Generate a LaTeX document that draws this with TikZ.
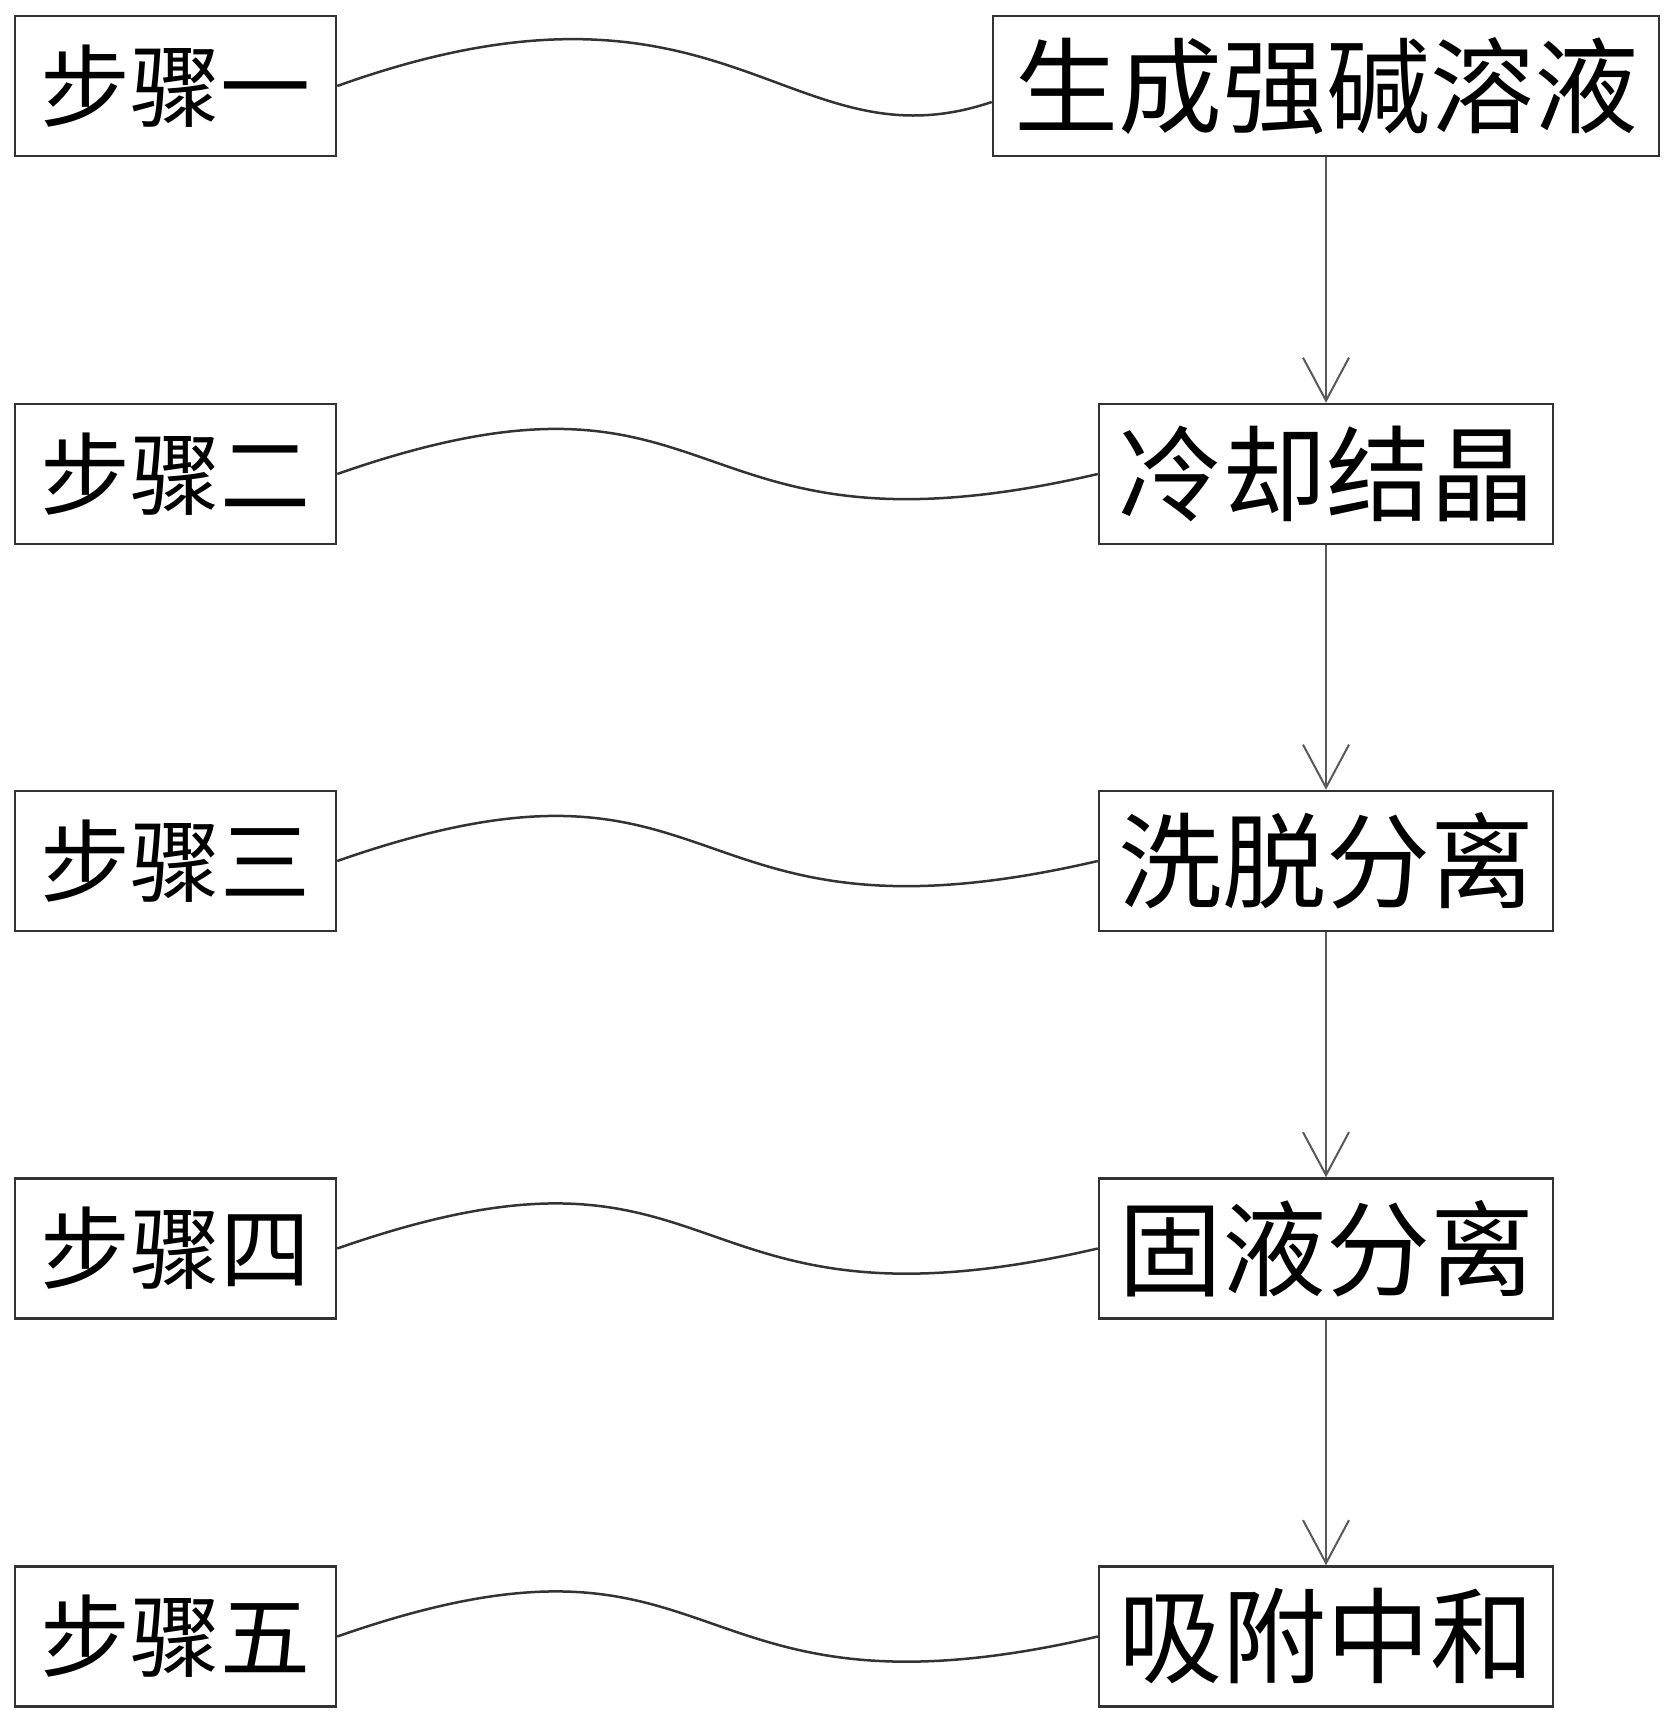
\documentclass[tikz,border=0pt]{standalone}
\usepackage{fontspec}
\newfontfamily\cjk{Noto Sans CJK SC}
\usetikzlibrary{arrows.meta,calc}
\tikzset{
  box/.style={draw=black!80, line width=2.5pt, inner sep=0pt, fill=white},
  stepbox/.style={box, minimum width=321pt, minimum height=140pt, font=\cjk\fontsize{90pt}{90pt}\selectfont},
  procbox/.style={box, minimum width=454pt, minimum height=140pt, font=\cjk\fontsize{104pt}{104pt}\selectfont},
  wave/.style={draw=black!80, line width=2.5pt},
  flow/.style={draw=black!65, line width=2pt, -{Straight Barb[length=43pt,width=46pt]}},
}
\begin{document}
\begin{tikzpicture}[x=1pt,y=-1pt]
\useasboundingbox[fill=white] (0,0) rectangle (1675,1722);
\node[stepbox] (s1) at (175.5,86) {步骤一};
\node[stepbox] (s2) at (175.5,474) {步骤二};
\node[stepbox] (s3) at (175.5,861) {步骤三};
\node[stepbox] (s4) at (175.5,1248.5) {步骤四};
\node[stepbox] (s5) at (175.5,1636.5) {步骤五};
\node[procbox, minimum width=666pt] (p1) at (1326,86) {生成强碱溶液};
\node[procbox] (p2) at (1326,474) {冷却结晶};
\node[procbox] (p3) at (1326,861) {洗脱分离};
\node[procbox] (p4) at (1326,1248.5) {固液分离};
\node[procbox] (p5) at (1326,1636.5) {吸附中和};
\draw[wave] (s1.east) .. controls ($(s1.east)+(390,-140)$) and ($(s1.east)+(450,85)$) .. ($(p1.west)+(0,16)$);
\foreach \i in {2,...,5}{
  \draw[wave] (s\i.east) .. controls ($(s\i.east)+(400,-140)$) and ($(s\i.east)+(330,100)$) .. (p\i.west);
}
\draw[flow] (p1.south) -- (p2.north);
\draw[flow] (p2.south) -- (p3.north);
\draw[flow] (p3.south) -- (p4.north);
\draw[flow] (p4.south) -- (p5.north);
\end{tikzpicture}
\end{document}
